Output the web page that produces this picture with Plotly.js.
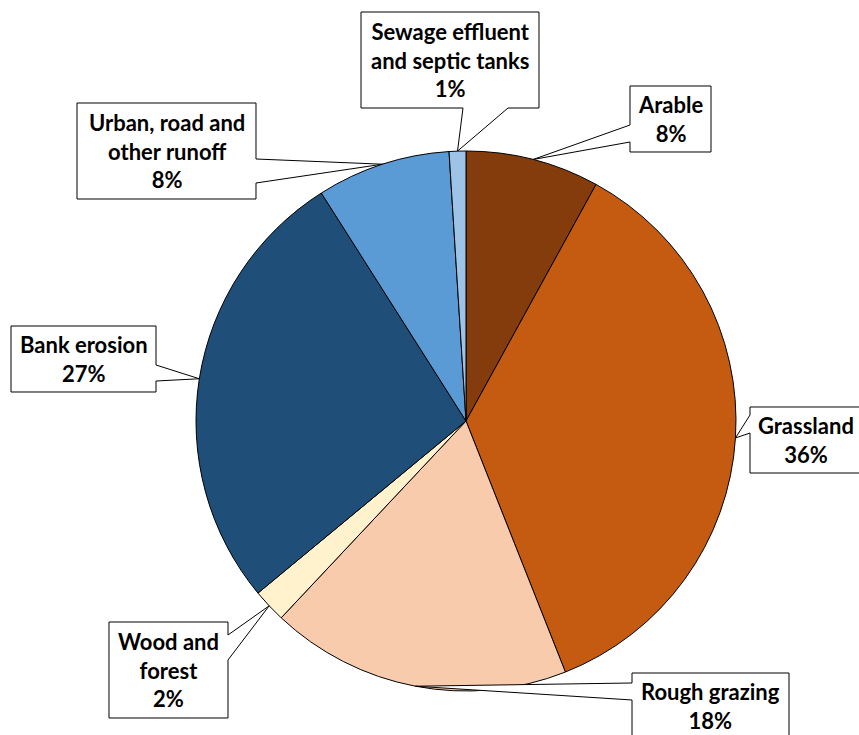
<!DOCTYPE html>
<html>
<head>
<meta charset="utf-8">
<script src="https://cdn.plot.ly/plotly-3.0.1.min.js"></script>
<style>
  html, body { margin: 0; padding: 0; background: #ffffff; }
  #chart { width: 859px; height: 735px; }
</style>
</head>
<body>
<div id="chart"></div>
<script>
// Sources of the nutrient load, in percent, clockwise from 12 o'clock
const categories = [
  "Arable",
  "Grassland",
  "Rough grazing",
  "Wood and forest",
  "Bank erosion",
  "Urban, road and other runoff",
  "Sewage effluent and septic tanks"
];
const shares = [8, 36, 18, 2, 27, 8, 1];
// Wrapped callout text for each category
const calloutText = [
  "Arable",
  "Grassland",
  "Rough grazing",
  "Wood and<br>forest",
  "Bank erosion",
  "Urban, road and<br>other runoff",
  "Sewage effluent<br>and septic tanks"
];
const sliceColors = ["#843C0C", "#C55A11", "#F8CBAD", "#FFF2CC", "#1F4E79", "#5B9BD5", "#9DC3E6"];

// Figure geometry (pixels)
const W = 859, H = 735;
const CX = 466, CY = 421, R = 270;

// Callout boxes: [x0, y0, x1, y1], the side the pointer leaves from, and the pointer's base span on that side
const callouts = [
  { box: [630, 86, 711, 152],  side: "left",   span: [125, 142] },
  { box: [750, 407, 872, 473], side: "left",   span: [415, 433] },
  { box: [632, 673, 789, 745], side: "left",   span: [683, 700] },
  { box: [109, 622, 228, 718], side: "right",  span: [635, 660] },
  { box: [11, 326, 156, 392],  side: "right",  span: [365, 381] },
  { box: [77, 103, 256, 199],  side: "right",  span: [159, 183] },
  { box: [361, 12, 539, 108],  side: "bottom", span: [463, 508] }
];

const px = x => x / W;
const py = y => 1 - y / H;
const P = (x, y) => px(x).toFixed(5) + "," + py(y).toFixed(5);

const total = shares.reduce((a, b) => a + b, 0);
const shapes = [];
const annotations = [];
let cum = 0;
shares.forEach((v, i) => {
  // pointer tip sits on the rim at the middle of the slice
  const ang = (cum + v / 2) / total * 2 * Math.PI;
  cum += v;
  const ax = CX + R * Math.sin(ang);
  const ay = CY - R * Math.cos(ang);
  const c = callouts[i];
  const [x0, y0, x1, y1] = c.box;
  const [a, b] = c.span;
  let path;
  if (c.side === "right") {
    path = `M ${P(x0, y0)} L ${P(x1, y0)} L ${P(x1, a)} L ${P(ax, ay)} L ${P(x1, b)} L ${P(x1, y1)} L ${P(x0, y1)} Z`;
  } else if (c.side === "left") {
    path = `M ${P(x0, y0)} L ${P(x1, y0)} L ${P(x1, y1)} L ${P(x0, y1)} L ${P(x0, b)} L ${P(ax, ay)} L ${P(x0, a)} Z`;
  } else {
    path = `M ${P(x0, y0)} L ${P(x1, y0)} L ${P(x1, y1)} L ${P(b, y1)} L ${P(ax, ay)} L ${P(a, y1)} L ${P(x0, y1)} Z`;
  }
  shapes.push({
    type: "path", xref: "paper", yref: "paper", path: path,
    fillcolor: "#ffffff", line: { color: "#000000", width: 1 }, layer: "above"
  });
  const pct = Math.round(v / total * 100) + "%";
  annotations.push({
    xref: "paper", yref: "paper",
    x: px(i === 1 ? 806 : (x0 + x1) / 2),
    y: py(i === 2 ? 706 : (y0 + y1) / 2),
    xanchor: "center", yanchor: "middle",
    text: "<b>" + calloutText[i] + "<br>" + pct + "</b>",
    showarrow: false, align: "center",
    font: { family: "Lato, 'Open Sans', sans-serif", size: 22, color: "#000000" }
  });
});

const trace = {
  type: "pie",
  labels: categories,
  values: shares,
  sort: false,
  direction: "clockwise",
  rotation: 0,
  textinfo: "none",
  hoverinfo: "label+percent",
  marker: { colors: sliceColors, line: { color: "#000000", width: 1 } },
  domain: { x: [px(CX - R), px(CX + R)], y: [py(CY + R), py(CY - R)] },
  showlegend: false
};

const layout = {
  width: W, height: H,
  margin: { l: 0, r: 0, t: 0, b: 0 },
  paper_bgcolor: "#ffffff",
  showlegend: false,
  shapes: shapes,
  annotations: annotations
};

Plotly.newPlot("chart", [trace], layout, { displayModeBar: false, staticPlot: true });
</script>
</body>
</html>
